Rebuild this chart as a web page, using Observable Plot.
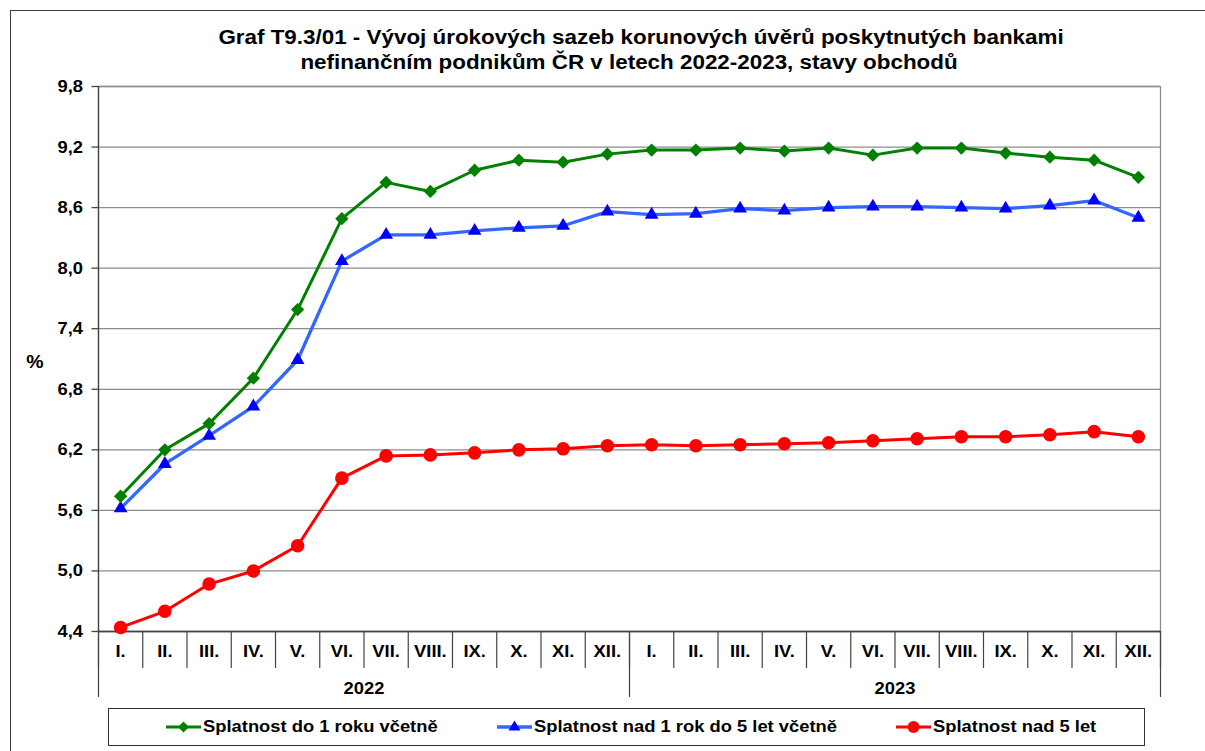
<!DOCTYPE html>
<html><head><meta charset="utf-8">
<script src="https://cdn.jsdelivr.net/npm/d3@7"></script>
<script src="https://cdn.jsdelivr.net/npm/@observablehq/plot@0.6"></script>
<style>
body{margin:0;background:#fff;font-family:"Liberation Sans",Arial,sans-serif;}
#wrap{position:relative;width:1205px;height:751px;overflow:hidden;background:#fff;}
.border{position:absolute;left:10px;top:10px;width:1300px;height:900px;border:1px solid #3a3a3a;}
.t{position:absolute;white-space:nowrap;font-weight:bold;color:#000;line-height:1;}
.title{font-size:20px;transform:translateX(-50%) scaleX(1.12);}
#chart{position:absolute;left:0;top:0;}
.legend{position:absolute;left:108px;top:708px;width:1037px;height:38px;box-sizing:border-box;border:1px solid #333;}
.item{position:absolute;top:0;height:36px;display:flex;align-items:center;}
.item span{font-weight:bold;font-size:17px;white-space:nowrap;transform:scaleX(1.08);transform-origin:left center;display:inline-block;margin-left:2px;}
</style></head><body>
<div id="wrap">
  <div class="border"></div>
  <div id="chart"></div>
  <div class="t title" style="left:641px;top:27px;">Graf T9.3/01 - Vývoj úrokových sazeb korunových úvěrů poskytnutých bankami</div>
  <div class="t title" style="left:629px;top:52px;">nefinančním podnikům ČR v letech 2022-2023, stavy obchodů</div>
  <div class="t" style="left:35px;top:353px;font-size:18px;transform:translateX(-50%) scaleX(1.08);">%</div>
  <div class="legend" id="legend"></div>
</div>
<script>
const months = ["I.","II.","III.","IV.","V.","VI.","VII.","VIII.","IX.","X.","XI.","XII."];
const years = ["2022","2023"];
const seriesNames = ["Splatnost do 1 roku včetně","Splatnost nad 1 rok do 5 let včetně","Splatnost nad 5 let"];
const shortTerm = [5.74,6.20,6.46,6.91,7.59,8.49,8.85,8.76,8.97,9.07,9.05,9.13,
                   9.17,9.17,9.19,9.16,9.19,9.12,9.19,9.19,9.14,9.10,9.07,8.90];
const midTerm   = [5.62,6.06,6.34,6.63,7.09,8.07,8.33,8.33,8.37,8.40,8.42,8.56,
                   8.53,8.54,8.59,8.57,8.60,8.61,8.61,8.60,8.59,8.62,8.67,8.50];
const longTerm  = [4.44,4.60,4.87,5.00,5.25,5.92,6.14,6.15,6.17,6.20,6.21,6.24,
                   6.25,6.24,6.25,6.26,6.27,6.29,6.31,6.33,6.33,6.35,6.38,6.33];
const yTicks = [4.4,5.0,5.6,6.2,6.8,7.4,8.0,8.6,9.2,9.8];

const cats = years.flatMap(y => months.map(m => ({year: y, month: m})));
const n = cats.length;
const rows = cats.map((c, i) => ({...c, x: i + 0.5, a: shortTerm[i], b: midTerm[i], c: longTerm[i]}));
const monthBounds = d3.range(0, n + 1);
const yearBounds = d3.range(0, n + 1, months.length);
const monthCenters = rows.map(r => r.x);
const yearCenters = years.map((y, j) => (j + 0.5) * months.length);
const fmt = d => d.toFixed(1).replace(".", ",");

const colors = {a: "#008000", bLine: "#3366ff", bMark: "#0000ff", c: "#ff0000"};
const FS = 17, SX = 1.08;

const chart = Plot.plot({
  width: 1205, height: 705,
  marginLeft: 98, marginRight: 45, marginTop: 86, marginBottom: 74,
  x: {domain: [0, n], axis: null},
  y: {domain: [yTicks[0], yTicks[yTicks.length - 1]], axis: null},
  style: {fontFamily: "Liberation Sans, Arial, sans-serif", fontWeight: "bold", fontSize: FS + "px", color: "#000", background: "transparent", overflow: "visible"},
  marks: [
    Plot.gridY(yTicks, {stroke: "#8c8c8c", strokeOpacity: 1, strokeWidth: 1.3}),
    Plot.frame({stroke: "#8c8c8c", strokeWidth: 1.3}),
    Plot.ruleX([0], {stroke: "#444", strokeWidth: 1.3}),
    Plot.ruleY([yTicks[0]], {stroke: "#444", strokeWidth: 1.3}),
    Plot.axisY(yTicks, {tickSize: 6.5, tickPadding: 9, tickFormat: fmt, stroke: "#444", strokeWidth: 1.3, label: null, fontSize: FS, fontWeight: "bold", fill: "#000"}),
    Plot.axisX(monthBounds, {tickSize: 37, tickFormat: () => "", stroke: "#444", strokeWidth: 1.2, label: null}),
    Plot.axisX(yearBounds, {tickSize: 66, tickFormat: () => "", stroke: "#444", strokeWidth: 1.2, label: null}),
    Plot.axisX(monthCenters, {tickSize: 0, tickPadding: 13, tickFormat: v => cats[Math.floor(v)].month, label: null, fontSize: FS, fontWeight: "bold", fill: "#000"}),
    Plot.axisX(yearCenters, {tickSize: 0, tickPadding: 50, tickFormat: v => years[Math.floor(v / months.length)], label: null, fontSize: FS, fontWeight: "bold", fill: "#000"}),
    Plot.line(rows, {x: "x", y: "c", stroke: colors.c, strokeWidth: 3}),
    Plot.dot(rows, {x: "x", y: "c", symbol: "circle", r: 6.8, fill: colors.c, stroke: "none"}),
    Plot.line(rows, {x: "x", y: "b", stroke: colors.bLine, strokeWidth: 3.3}),
    Plot.dot(rows, {x: "x", y: "b", symbol: "triangle", r: 5.1, fill: colors.bMark, stroke: "none"}),
    Plot.line(rows, {x: "x", y: "a", stroke: colors.a, strokeWidth: 3}),
    Plot.dot(rows, {x: "x", y: "a", symbol: "diamond2", r: 6, fill: colors.a, stroke: "none"})
  ]
});
chart.querySelectorAll("text").forEach(t => {
  const tr = t.getAttribute("transform") || "";
  t.setAttribute("transform", tr + ` scale(${SX},1)`);
});
document.getElementById("chart").appendChild(chart);

// legend
const legend = document.getElementById("legend");
const legendX = [166, 497, 896];
const markerSvg = [
  `<svg width="35" height="16"><line x1="0" y1="8" x2="35" y2="8" stroke="${colors.a}" stroke-width="3"/><polygon points="17.5,2.5 23,8 17.5,13.5 12,8" fill="${colors.a}"/></svg>`,
  `<svg width="35" height="16"><line x1="0" y1="8" x2="35" y2="8" stroke="${colors.bLine}" stroke-width="3.3"/><polygon points="17.5,1.5 23.5,11.5 11.5,11.5" fill="${colors.bMark}"/></svg>`,
  `<svg width="35" height="16"><line x1="0" y1="8" x2="35" y2="8" stroke="${colors.c}" stroke-width="3"/><circle cx="17.5" cy="8" r="6" fill="${colors.c}"/></svg>`
];
seriesNames.forEach((name, i) => {
  const d = document.createElement("div");
  d.className = "item";
  d.style.left = (legendX[i] - 108 - 1) + "px";
  d.innerHTML = markerSvg[i] + `<span>${name}</span>`;
  legend.appendChild(d);
});
</script>
</body></html>
